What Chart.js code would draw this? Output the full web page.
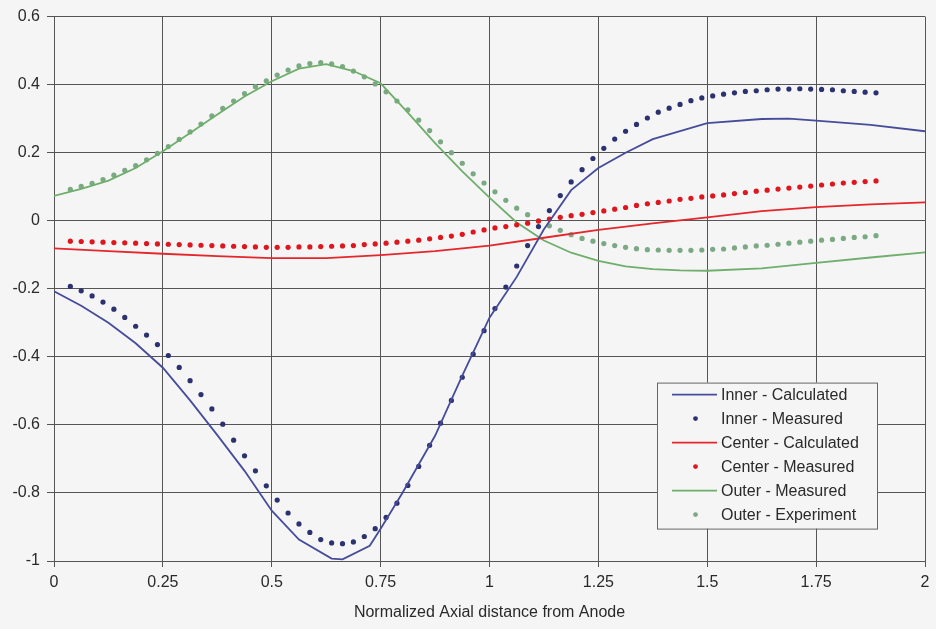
<!DOCTYPE html>
<html>
<head>
<meta charset="utf-8">
<script src="https://cdn.jsdelivr.net/npm/chart.js@4.4.0/dist/chart.umd.min.js"></script>
<style>
  html, body { margin: 0; padding: 0; background: #f4f5f4; }
  #wrap { width: 936px; height: 629px; }
</style>
</head>
<body>
<div id="wrap"><canvas id="my-chart" width="936" height="629"></canvas></div>
<script>
// tick labels
const xTickLabels = ['0', '0.25', '0.5', '0.75', '1', '1.25', '1.5', '1.75', '2'];
const yTickLabels = ['-1', '-0.8', '-0.6', '-0.4', '-0.2', '0', '0.2', '0.4', '0.6'];

const seriesNames = ['Inner - Calculated', 'Inner - Measured', 'Center - Calculated',
                     'Center - Measured', 'Outer - Measured', 'Outer - Experiment'];

// measured points (dots)
const measX = [0.0375,0.0625,0.0875,0.1125,0.1375,0.1625,0.1875,0.2125,0.2375,0.2625,
  0.2875,0.3125,0.3375,0.3625,0.3875,0.4125,0.4375,0.4625,0.4875,0.5125,
  0.5375,0.5625,0.5875,0.6125,0.6375,0.6625,0.6875,0.7125,0.7375,0.7625,
  0.7875,0.8125,0.8375,0.8625,0.8875,0.9125,0.9375,0.9625,0.9875,1.0125,
  1.0375,1.0625,1.0875,1.1125,1.1375,1.1625,1.1875,1.2125,1.2375,1.2625,
  1.2875,1.3125,1.3375,1.3625,1.3875,1.4125,1.4375,1.4625,1.4875,1.5125,
  1.5375,1.5625,1.5875,1.6125,1.6375,1.6625,1.6875,1.7125,1.7375,1.7625,
  1.7875,1.8125,1.8375,1.8625,1.8875];

const innerMeas = [-0.193,-0.206,-0.221,-0.239,-0.260,-0.284,-0.310,-0.336,-0.364,-0.396,
  -0.431,-0.470,-0.511,-0.553,-0.598,-0.645,-0.691,-0.735,-0.779,-0.821,
  -0.859,-0.891,-0.916,-0.937,-0.947,-0.949,-0.944,-0.928,-0.905,-0.872,
  -0.830,-0.778,-0.722,-0.660,-0.595,-0.528,-0.460,-0.392,-0.323,-0.258,
  -0.195,-0.133,-0.073,-0.017,0.030,0.074,0.114,0.150,0.183,0.213,
  0.240,0.263,0.283,0.302,0.319,0.331,0.342,0.353,0.361,0.367,
  0.372,0.376,0.380,0.382,0.385,0.387,0.387,0.388,0.387,0.386,
  0.385,0.382,0.380,0.378,0.376];

const centerMeas = [-0.060,-0.061,-0.062,-0.063,-0.064,-0.065,-0.066,-0.067,-0.068,-0.069,
  -0.070,-0.071,-0.072,-0.073,-0.074,-0.075,-0.076,-0.077,-0.078,-0.078,
  -0.078,-0.077,-0.077,-0.076,-0.075,-0.074,-0.073,-0.070,-0.068,-0.066,
  -0.063,-0.060,-0.057,-0.053,-0.049,-0.045,-0.040,-0.033,-0.027,-0.021,
  -0.017,-0.012,-0.007,-0.001,0.005,0.010,0.015,0.019,0.024,0.029,
  0.034,0.039,0.045,0.050,0.054,0.058,0.063,0.066,0.070,0.073,
  0.076,0.080,0.083,0.087,0.090,0.093,0.096,0.099,0.102,0.105,
  0.108,0.111,0.113,0.115,0.117];

const outerMeas = [0.092,0.101,0.110,0.121,0.134,0.148,0.162,0.179,0.198,0.218,
  0.239,0.261,0.284,0.308,0.330,0.352,0.374,0.394,0.411,0.428,
  0.443,0.455,0.462,0.465,0.461,0.453,0.440,0.423,0.402,0.379,
  0.352,0.326,0.296,0.265,0.232,0.200,0.169,0.138,0.111,0.085,
  0.060,0.037,0.018,0.000,-0.015,-0.028,-0.041,-0.052,-0.060,-0.067,
  -0.073,-0.078,-0.082,-0.085,-0.086,-0.087,-0.087,-0.087,-0.086,-0.084,
  -0.083,-0.080,-0.077,-0.074,-0.072,-0.069,-0.066,-0.063,-0.060,-0.057,
  -0.055,-0.052,-0.049,-0.047,-0.044];

// calculated curves (lines)
const innerCalcX = [0,0.0625,0.125,0.1875,0.25,0.3125,0.375,0.4375,0.5,0.5625,0.6375,0.6625,0.725,0.75,
  0.8,0.875,0.9375,1,1.0625,1.125,1.1875,1.25,1.3125,1.375,1.5,1.625,1.6875,1.75,1.875,2];
const innerCalcY = [-0.207,-0.250,-0.300,-0.360,-0.432,-0.528,-0.630,-0.735,-0.852,-0.937,-0.993,-0.995,-0.955,-0.905,
  -0.800,-0.632,-0.455,-0.285,-0.165,-0.025,0.090,0.155,0.200,0.240,0.287,0.299,0.300,0.294,0.282,0.263];

const centerCalcX = [0,0.125,0.25,0.375,0.5,0.625,0.75,0.875,1,1.125,1.25,1.375,1.5,1.625,1.75,1.875,2];
const centerCalcY = [-0.081,-0.089,-0.097,-0.104,-0.110,-0.110,-0.101,-0.089,-0.073,-0.050,-0.027,-0.008,
  0.010,0.028,0.040,0.048,0.054];

const outerCalcX = [0,0.0625,0.125,0.1875,0.25,0.3125,0.375,0.4375,0.5,0.5625,0.625,0.6875,0.75,0.8125,
  0.875,0.9375,1,1.0625,1.125,1.1875,1.25,1.3125,1.375,1.4375,1.5,1.625,1.75,1.875,2];
const outerCalcY = [0.073,0.094,0.118,0.155,0.204,0.258,0.312,0.365,0.410,0.447,0.460,0.440,0.404,0.318,
  0.228,0.145,0.068,-0.005,-0.058,-0.094,-0.118,-0.134,-0.142,-0.146,-0.147,-0.140,-0.124,-0.108,-0.093];

const toPoints = (xs, ys) => xs.map((x, i) => ({ x: x, y: ys[i] }));

const lineSet = (label, xs, ys, color) => ({
  label, data: toPoints(xs, ys), showLine: true, borderColor: color, backgroundColor: color,
  borderWidth: 1.8, pointRadius: 0, tension: 0
});
const dotSet = (label, xs, ys, color) => ({
  label, data: toPoints(xs, ys), showLine: false, borderColor: color, backgroundColor: color,
  borderWidth: 0, pointRadius: 2.6
});

const bgPlugin = {
  id: 'bg',
  beforeDraw(chart) {
    const ctx = chart.ctx;
    ctx.save();
    ctx.fillStyle = '#f4f5f4';
    ctx.fillRect(0, 0, chart.width, chart.height);
    ctx.restore();
  }
};

// boxed legend inside the plot, lower right
const boxLegend = {
  id: 'boxLegend',
  afterDraw(chart) {
    const ctx = chart.ctx;
    const a = chart.chartArea;
    const x0 = a.left + 603, y0 = a.top + 366, w = 220, h = 146;
    ctx.save();
    ctx.fillStyle = '#f4f5f4';
    ctx.fillRect(x0, y0, w, h);
    ctx.strokeStyle = '#666';
    ctx.lineWidth = 1;
    ctx.strokeRect(x0 + 0.5, y0 + 0.5, w, h);
    ctx.font = '16px "Liberation Sans", Arial, sans-serif';
    ctx.textBaseline = 'middle';
    chart.data.datasets.forEach((ds, i) => {
      const cy = y0 + 12 + i * 24;
      if (ds.showLine) {
        ctx.strokeStyle = ds.borderColor;
        ctx.lineWidth = 1.8;
        ctx.beginPath();
        ctx.moveTo(x0 + 15, cy);
        ctx.lineTo(x0 + 60, cy);
        ctx.stroke();
      } else {
        ctx.fillStyle = ds.backgroundColor;
        ctx.beginPath();
        ctx.arc(x0 + 38.5, cy, 2.4, 0, Math.PI * 2);
        ctx.fill();
      }
      ctx.fillStyle = '#2a2a2a';
      ctx.fillText(ds.label, x0 + 64, cy + 1);
    });
    ctx.restore();
  }
};

const ctx = document.getElementById('my-chart').getContext('2d');
const chart = new Chart(ctx, {
  type: 'scatter',
  data: {
    datasets: [
      lineSet(seriesNames[0], innerCalcX, innerCalcY, '#474c9a'),
      dotSet(seriesNames[1], measX, innerMeas, '#2c3170'),
      lineSet(seriesNames[2], centerCalcX, centerCalcY, '#e5262c'),
      dotSet(seriesNames[3], measX, centerMeas, '#e0161f'),
      lineSet(seriesNames[4], outerCalcX, outerCalcY, '#6fae6c'),
      dotSet(seriesNames[5], measX, outerMeas, '#7aa983')
    ]
  },
  options: {
    responsive: false,
    animation: false,
    devicePixelRatio: 1,
    layout: { padding: { top: 15, right: 11, left: 0, bottom: 0 } },
    plugins: { legend: { display: false }, tooltip: { enabled: false } },
    scales: {
      x: {
        type: 'linear', min: 0, max: 2,
        afterFit: s => { s.height = 68; },
        ticks: {
          stepSize: 0.25, padding: 6, color: '#2a2a2a',
          font: { family: '"Liberation Sans", Arial, sans-serif', size: 16 },
          callback: (v, i) => xTickLabels[i]
        },
        grid: { color: '#555', lineWidth: 1, tickLength: 6, tickColor: '#555' },
        border: { color: '#555' },
        title: {
          display: true, text: 'Normalized Axial distance from Anode', color: '#2a2a2a',
          font: { family: '"Liberation Sans", Arial, sans-serif', size: 16 },
          padding: { top: 4, bottom: 7 }
        }
      },
      y: {
        type: 'linear', min: -1, max: 0.6,
        afterFit: s => { s.width = 54; },
        ticks: {
          stepSize: 0.2, padding: 7, color: '#2a2a2a',
          font: { family: '"Liberation Sans", Arial, sans-serif', size: 16 },
          callback: (v, i) => yTickLabels[i]
        },
        grid: { color: '#555', lineWidth: 1, tickLength: 7, tickColor: '#555' },
        border: { color: '#555' }
      }
    }
  },
  plugins: [bgPlugin, boxLegend]
});
</script>
</body>
</html>
